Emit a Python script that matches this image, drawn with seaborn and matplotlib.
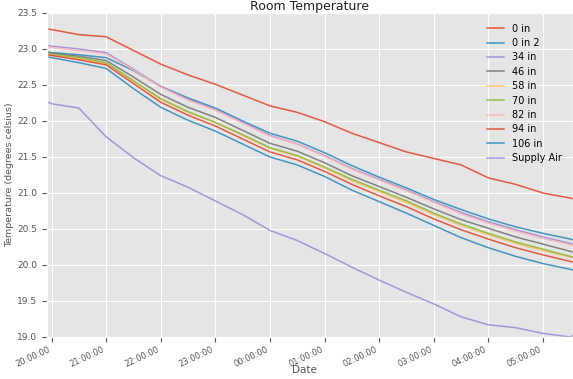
import matplotlib
matplotlib.use("Agg")
import matplotlib.pyplot as plt
import matplotlib.dates as mdates
import numpy as np
import pandas as pd
import seaborn as sns

times = ["2017-01-01 19:55", "2017-01-01 20:00", "2017-01-01 20:30", "2017-01-01 21:00",
         "2017-01-01 21:30", "2017-01-01 22:00", "2017-01-01 22:30", "2017-01-01 23:00",
         "2017-01-01 23:30", "2017-01-02 00:00", "2017-01-02 00:30", "2017-01-02 01:00",
         "2017-01-02 01:30", "2017-01-02 02:00", "2017-01-02 02:30", "2017-01-02 03:00",
         "2017-01-02 03:30", "2017-01-02 04:00", "2017-01-02 04:30", "2017-01-02 05:00",
         "2017-01-02 05:30", "2017-01-02 05:33"]

s_0in = [23.28, 23.27, 23.20, 23.17, 22.98, 22.79, 22.64, 22.51, 22.36, 22.21, 22.12,
         21.99, 21.83, 21.70, 21.57, 21.48, 21.39, 21.21, 21.12, 21.00, 20.93, 20.92]
s_0in2 = [22.96, 22.95, 22.92, 22.88, 22.70, 22.48, 22.32, 22.18, 22.00, 21.83, 21.72,
          21.56, 21.38, 21.22, 21.07, 20.91, 20.77, 20.64, 20.53, 20.44, 20.36, 20.35]
s_34in = [23.05, 23.04, 23.00, 22.95, 22.72, 22.48, 22.30, 22.16, 21.98, 21.80, 21.68,
          21.52, 21.34, 21.19, 21.04, 20.88, 20.73, 20.60, 20.49, 20.39, 20.30, 20.29]
s_46in = [22.95, 22.94, 22.90, 22.84, 22.61, 22.37, 22.19, 22.05, 21.87, 21.69, 21.58,
          21.42, 21.24, 21.09, 20.94, 20.78, 20.63, 20.51, 20.39, 20.29, 20.19, 20.18]
s_58in = [22.93, 22.92, 22.87, 22.80, 22.55, 22.30, 22.12, 21.98, 21.80, 21.62, 21.51,
          21.35, 21.17, 21.02, 20.87, 20.70, 20.55, 20.42, 20.30, 20.20, 20.11, 20.10]
s_70in = [22.94, 22.93, 22.88, 22.81, 22.56, 22.31, 22.13, 21.98, 21.81, 21.63, 21.52,
          21.36, 21.19, 21.04, 20.89, 20.72, 20.57, 20.44, 20.32, 20.22, 20.12, 20.11]
s_82in = [23.03, 23.02, 22.98, 22.93, 22.71, 22.47, 22.29, 22.15, 21.97, 21.79, 21.68,
          21.51, 21.33, 21.18, 21.03, 20.87, 20.71, 20.58, 20.47, 20.37, 20.28, 20.27]
s_94in = [22.92, 22.91, 22.85, 22.78, 22.52, 22.26, 22.08, 21.93, 21.75, 21.57, 21.46,
          21.30, 21.12, 20.96, 20.81, 20.64, 20.49, 20.36, 20.24, 20.14, 20.05, 20.04]
s_106in = [22.89, 22.88, 22.81, 22.73, 22.45, 22.19, 22.01, 21.86, 21.68, 21.50, 21.39,
           21.23, 21.04, 20.88, 20.72, 20.55, 20.38, 20.24, 20.12, 20.02, 19.94, 19.93]
s_supply = [22.27, 22.24, 22.18, 21.78, 21.49, 21.24, 21.08, 20.89, 20.70, 20.48, 20.34,
            20.16, 19.97, 19.79, 19.62, 19.46, 19.28, 19.17, 19.13, 19.05, 19.00, 19.02]

labels = ["0 in", "0 in 2", "34 in", "46 in", "58 in", "70 in", "82 in", "94 in",
          "106 in", "Supply Air"]
series = [s_0in, s_0in2, s_34in, s_46in, s_58in, s_70in, s_82in, s_94in, s_106in, s_supply]
colors = ["#E24A33", "#348ABD", "#988ED5", "#777777", "#FBC15E", "#8EBA42", "#FFB5B8",
          "#E24A33", "#348ABD", "#988ED5"]
yticks = [19.0, 19.5, 20.0, 20.5, 21.0, 21.5, 22.0, 22.5, 23.0, 23.5]

plt.style.use("ggplot")
t = pd.to_datetime(times)

fig = plt.figure(figsize=(5.73, 3.79), dpi=100)
ax = fig.add_axes([47 / 573, 1 - 337 / 379, 1 - 47 / 573, (337 - 13) / 379])

for lab, vals, c in zip(labels, series, colors):
    sns.lineplot(x=t, y=vals, ax=ax, color=c, label=lab, linewidth=1.1, alpha=0.9)

ax.set_xlim(t[0], t[-1])
ax.set_ylim(19.0, 23.5)
ax.set_yticks(yticks)
ax.set_yticklabels([f"{v:.1f}" for v in yticks], fontsize=6.5, color="#555555")
ax.xaxis.set_major_locator(mdates.HourLocator())
ax.xaxis.set_major_formatter(mdates.DateFormatter("%H:%M:%S"))
ax.tick_params(axis="x", pad=2)
for lbl in ax.get_xticklabels():
    lbl.set_rotation(25)
    lbl.set_ha("right")
    lbl.set_fontsize(6)
    lbl.set_color("#555555")

ax.set_title("Room Temperature", fontsize=9, color="#222222", pad=1)
ax.set_xlabel("Date", fontsize=7.5, color="#555555")
ax.xaxis.set_label_coords(0.49, -0.085)
ax.set_ylabel("Temperature (degrees celsius)", fontsize=6.8, color="#555555")
ax.yaxis.set_label_coords(-0.062, 0.5)

leg = ax.legend(loc="upper right", frameon=False, fontsize=7, labelspacing=0.45,
                handlelength=1.7, handletextpad=0.9, borderaxespad=0.7)

fig.savefig("out.png", dpi=100)
